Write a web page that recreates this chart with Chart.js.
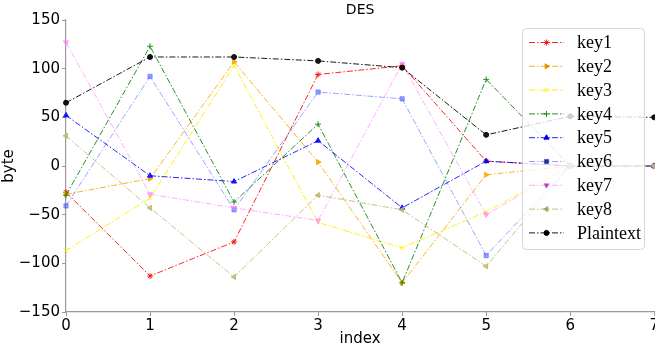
<!DOCTYPE html>
<html>
<head>
<meta charset="utf-8">
<script src="https://cdn.jsdelivr.net/npm/chart.js@4.4.1/dist/chart.umd.min.js"></script>
<style>
  html, body { margin: 0; padding: 0; background: #fff; overflow: hidden; }
  #wrap { width: 660px; height: 350px; }
</style>
</head>
<body>
<div id="wrap"><canvas id="desChart"></canvas></div>
<script>
const indexLabels = ['0', '1', '2', '3', '4', '5', '6', '7'];
const yTicks = [-150, -100, -50, 0, 50, 100, 150];

const key1 = [-27, -113, -78, 94, 103, 5, 0, 0];
const key2 = [-29, -13, 107, 4, -120, -9, 0, 0];
const key3 = [-87, -33, 103, -58, -84, -47, 0, 0];
const key4 = [-30, 123, -37, 43, -120, 89, 0, 0];
const key5 = [52, -10, -16, 26, -43, 5, 0, 0];
const key6 = [-41, 92, -45, 76, 69, -92, 0, 0];
const key7 = [127, -29, -43, -56, 105, -50, 0, 0];
const key8 = [31, -43, -114, -30, -45, -103, 0, 0];
const plaintext = [65, 112, 112, 108, 101, 32, 51, 50];

const dashDot = [6, 2, 1.5, 2];

function line(label, data, color, style, rot, order) {
    return {
        label: label,
        data: data,
        borderColor: color,
        backgroundColor: color,
        borderWidth: 1,
        borderDash: dashDot,
        pointStyle: style,
        rotation: rot,
        pointRadius: style === 'circle' ? 2.5 : 3,
        pointBorderWidth: 1,
        pointBorderColor: color,
        fill: false,
        tension: 0,
        order: order
    };
}

const legendBox = {
    id: 'legendBox',
    afterDraw(chart) {
        const c = chart.ctx;
        const area = chart.chartArea;
        // title over the axes
        c.save();
        c.fillStyle = '#000';
        c.font = '14px "DejaVu Sans"';
        c.textAlign = 'center';
        c.textBaseline = 'middle';
        c.fillText('DES', (area.left + area.right) / 2, 10);

        const x0 = 522.5, y0 = 28.5, w = 122, h = 221;
        c.beginPath();
        c.roundRect(x0, y0, w, h, 4);
        c.fillStyle = 'rgba(255,255,255,0.8)';
        c.fill();
        c.strokeStyle = '#d6d6d6';
        c.lineWidth = 1;
        c.stroke();

        chart.data.datasets.forEach((ds, i) => {
            const y = 42.5 + i * 23.8;
            c.beginPath();
            c.setLineDash(dashDot);
            c.strokeStyle = ds.borderColor;
            c.lineWidth = 1;
            c.moveTo(529, y);
            c.lineTo(564, y);
            c.stroke();
            c.setLineDash([]);
            Chart.helpers.drawPoint(c, {
                pointStyle: ds.pointStyle,
                rotation: ds.rotation,
                radius: ds.pointRadius,
                borderWidth: 1
            }, 546.5, y);
            c.fillStyle = ds.borderColor;
            c.fill();
            c.fillStyle = '#000';
            c.font = '18px "Liberation Serif"';
            c.textAlign = 'left';
            c.fillText(ds.label, 577, y + 1);
        });
        c.restore();
    }
};

const ctx = document.getElementById('desChart').getContext('2d');
const desChart = new Chart(ctx, {
    type: 'line',
    data: {
        labels: indexLabels,
        datasets: [
            line('key1', key1, 'rgba(255,0,0,0.85)', 'star', 0, 9),
            line('key2', key2, 'rgba(255,165,0,0.85)', 'triangle', 90, 8),
            line('key3', key3, 'rgba(255,240,0,0.95)', 'crossRot', 0, 7),
            line('key4', key4, 'rgba(0,128,0,0.85)', 'cross', 0, 6),
            line('key5', key5, 'rgba(0,0,255,0.85)', 'triangle', 0, 5),
            line('key6', key6, 'rgba(70,90,255,0.55)', 'rect', 0, 4),
            line('key7', key7, 'rgba(255,120,255,0.6)', 'triangle', 180, 3),
            line('key8', key8, 'rgba(189,183,107,0.85)', 'triangle', -90, 2),
            line('Plaintext', plaintext, 'rgba(0,0,0,0.9)', 'circle', 0, 1)
        ]
    },
    options: {
        responsive: true,
        maintainAspectRatio: false,
        animation: false,
        layout: {
            padding: { top: 20, right: 0, left: 0, bottom: 0 }
        },
        plugins: {
            legend: { display: false },
            tooltip: { enabled: false },
            title: { display: false }
        },
        scales: {
            x: {
                offset: false,
                grid: { drawOnChartArea: false, drawTicks: true, tickLength: 4, color: '#999' },
                border: { display: true, color: '#999', width: 1.2 },
                ticks: {
                    color: '#000',
                    font: { family: 'DejaVu Sans', size: 15 },
                    padding: 1,
                    maxRotation: 0
                },
                title: {
                    display: true,
                    text: 'index',
                    color: '#000',
                    font: { family: 'DejaVu Sans', size: 15 },
                    padding: { top: 0, bottom: 2 }
                },
                afterFit(scale) { scale.height = 38; }
            },
            y: {
                min: yTicks[0],
                max: yTicks[yTicks.length - 1],
                grid: { drawOnChartArea: false, drawTicks: true, tickLength: 4, color: '#999' },
                border: { display: true, color: '#999', width: 1.2 },
                ticks: {
                    stepSize: 50,
                    color: '#000',
                    font: { family: 'DejaVu Sans', size: 15 },
                    padding: 2,
                    callback: (v) => String(v).replace('-', '\u2212')
                },
                title: {
                    display: true,
                    text: 'byte',
                    color: '#000',
                    font: { family: 'DejaVu Sans', size: 15 },
                    padding: { top: 0, bottom: 0 }
                },
                afterFit(scale) { scale.width = 66; }
            }
        }
    },
    plugins: [legendBox]
});
</script>
</body>
</html>
